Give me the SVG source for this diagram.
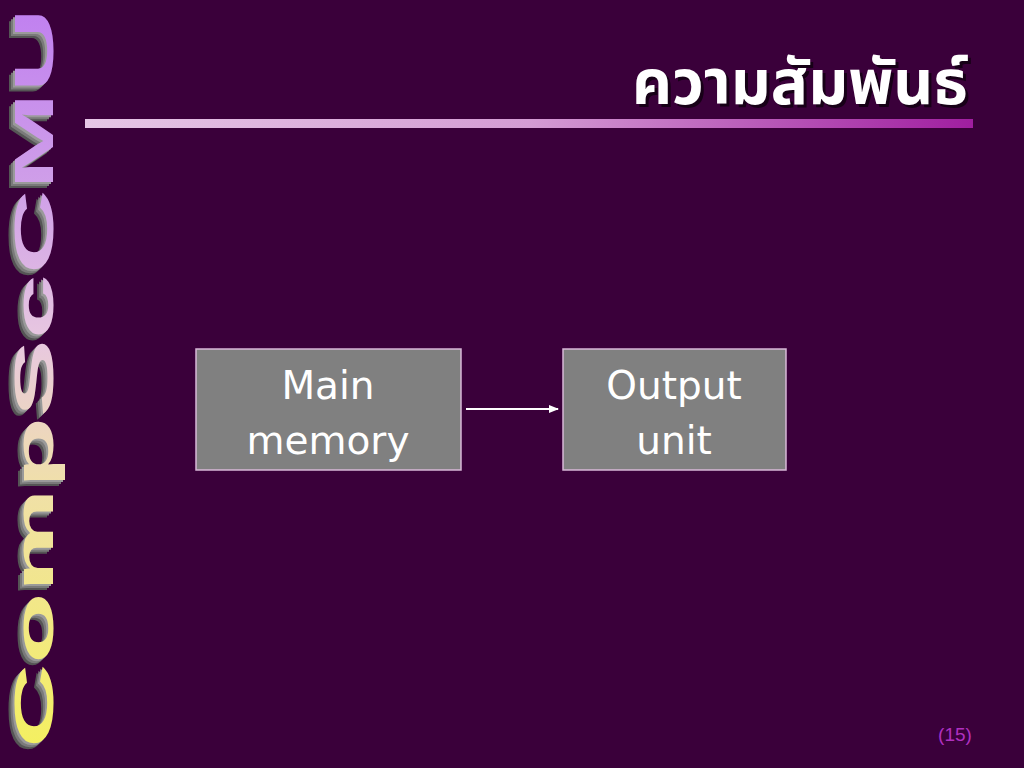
<svg xmlns="http://www.w3.org/2000/svg" width="1024" height="768" viewBox="0 0 1024 768">
<defs>
<linearGradient id="bar" x1="0" y1="0" x2="1" y2="0">
<stop offset="0" stop-color="#e6c6e6"/>
<stop offset="0.5" stop-color="#d49cd4"/>
<stop offset="1" stop-color="#a01ea0"/>
</linearGradient>
<linearGradient id="logo" gradientUnits="userSpaceOnUse" x1="0" y1="0" x2="740" y2="0">
<stop offset="0" stop-color="#f4f060"/>
<stop offset="0.35" stop-color="#f0e0a8"/>
<stop offset="0.55" stop-color="#e8c8e0"/>
<stop offset="0.75" stop-color="#d0a0e8"/>
<stop offset="1" stop-color="#c080f0"/>
</linearGradient>
<marker id="arr" markerWidth="10" markerHeight="8" refX="9" refY="4" orient="auto" markerUnits="userSpaceOnUse">
<path d="M0,0 L10,4 L0,8 Z" fill="#ffffff"/>
</marker>
<style>
.logo{font-family:"Liberation Sans",Arial,sans-serif;font-weight:900;font-size:56px;}
.box{fill:#808080;stroke:#d8b8d8;stroke-width:1.5;}
.lbl{font-family:"DejaVu Sans","Liberation Sans",sans-serif;font-size:39px;fill:#ffffff;text-anchor:middle;}
.ttl{font-family:"Noto Sans Thai","Noto Sans","DejaVu Sans",sans-serif;font-weight:bold;font-size:62px;text-anchor:end;}
</style>
</defs>
<rect width="1024" height="768" fill="#3a003a"/>
<g id="logo">
<g transform="translate(47,754) rotate(-90)">
<text class="logo" x="0" y="0" textLength="740" lengthAdjust="spacingAndGlyphs" fill="#555555">CompScCMU</text>
</g>
<g transform="translate(49,752) rotate(-90)">
<text class="logo" x="0" y="0" textLength="740" lengthAdjust="spacingAndGlyphs" fill="#7a7a7a">CompScCMU</text>
</g>
<g transform="translate(51,750) rotate(-90)">
<text class="logo" x="0" y="0" textLength="740" lengthAdjust="spacingAndGlyphs" fill="#9a9a9a">CompScCMU</text>
</g>
<g transform="translate(53,748) rotate(-90)">
<text class="logo" x="0" y="0" textLength="740" lengthAdjust="spacingAndGlyphs" fill="url(#logo)">CompScCMU</text>
</g>
</g>
<g id="title">
<text class="ttl" x="971" y="107" fill="#000000" opacity="0.6">ความสัมพันธ์</text>
<text class="ttl" x="968" y="104" fill="#ffffff">ความสัมพันธ์</text>
<rect x="85" y="119" width="888" height="9" fill="url(#bar)"/>
</g>
<g id="main-memory">
<rect class="box" x="196" y="349" width="265" height="121"/>
<text class="lbl" x="328" y="399">Main</text>
<text class="lbl" x="328" y="454">memory</text>
</g>
<g id="output-unit">
<rect class="box" x="563" y="349" width="223" height="121"/>
<text class="lbl" x="674" y="399">Output</text>
<text class="lbl" x="674" y="454">unit</text>
</g>
<g id="connectors">
<line x1="466" y1="409" x2="558" y2="409" stroke="#ffffff" stroke-width="2" marker-end="url(#arr)"/>
</g>
<text id="page" x="955" y="741" text-anchor="middle" font-family="'Liberation Sans',sans-serif" font-size="19" fill="#b030c0">(15)</text>
</svg>
